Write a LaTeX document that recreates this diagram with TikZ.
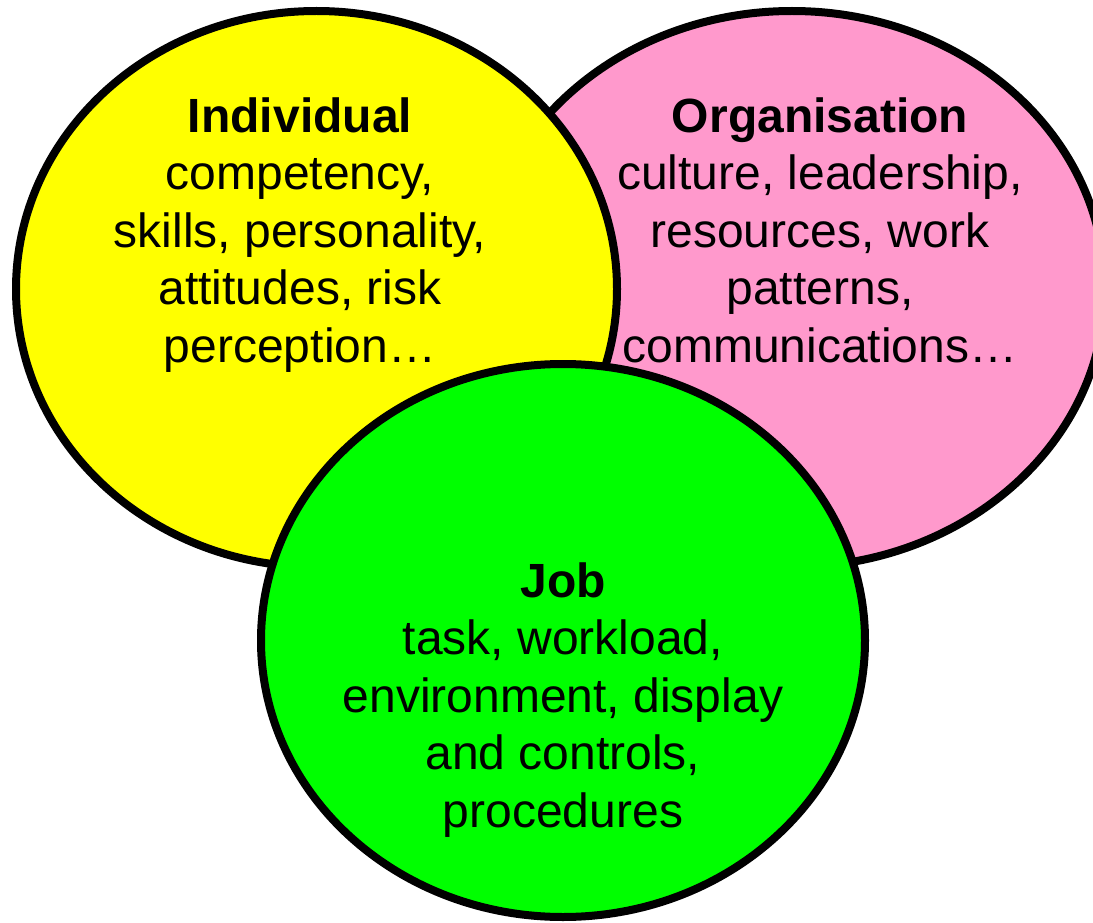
\documentclass[tikz,border=0pt]{standalone}
\usepackage{fontspec}
\setmainfont{Liberation Sans}
\usetikzlibrary{shapes.geometric}
\definecolor{yel}{HTML}{FFFF00}
\definecolor{pnk}{HTML}{FF99CC}
\definecolor{grn}{HTML}{00FF00}
\begin{document}
\begin{tikzpicture}[x=1pt,y=-1pt,
  blob/.style={ellipse, draw=black, line width=8pt, inner sep=0pt},
  lbl/.style={align=center, font=\fontsize{48}{57.5}\selectfont, anchor=base, inner sep=0pt}]
\useasboundingbox (0,0) rectangle (1093,923);
\clip (0,0) rectangle (1093,923);
\node[blob, fill=pnk, minimum width=626pt, minimum height=556pt] (org) at (792,289) {};
\node[blob, fill=yel, minimum width=601pt, minimum height=556pt] (ind) at (316.5,289) {};
\node[blob, fill=grn, minimum width=604pt, minimum height=553pt] (job) at (563,640.5) {};
\node[lbl] (indt) at (300,362) {\textbf{Individual}\\competency,\\skills, personality,\\attitudes, risk\\perception…};
\node[lbl] (orgt) at (820,362) {\textbf{Organisation}\\culture, leadership,\\resources, work\\patterns,\\communications…};
\node[lbl] (jobt) at (563,827) {\textbf{Job}\\task, workload,\\environment, display\\and controls,\\procedures};
\end{tikzpicture}
\end{document}
